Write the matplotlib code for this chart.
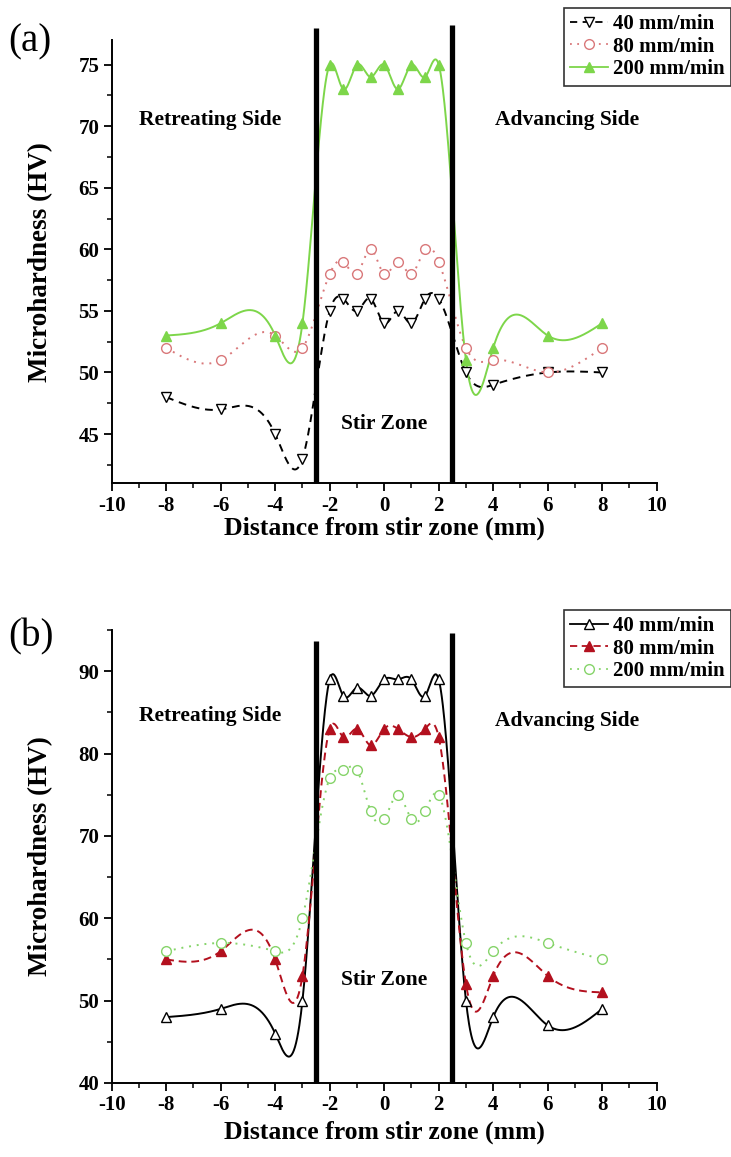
import numpy as np
import matplotlib
matplotlib.use('Agg')
import matplotlib.pyplot as plt
from matplotlib.ticker import MultipleLocator
from matplotlib.lines import Line2D

# ---------------- data ----------------
x = [-8, -6, -4, -3, -2, -1.5, -1, -0.5, 0, 0.5, 1, 1.5, 2, 3, 4, 6, 8]

a_40 = [48, 47, 45, 43, 55, 56, 55, 56, 54, 55, 54, 56, 56, 50, 49, 50, 50]
a_80 = [52, 51, 53, 52, 58, 59, 58, 60, 58, 59, 58, 60, 59, 52, 51, 50, 52]
a_200 = [53, 54, 53, 54, 75, 73, 75, 74, 75, 73, 75, 74, 75, 51, 52, 53, 54]

b_40 = [48, 49, 46, 50, 89, 87, 88, 87, 89, 89, 89, 87, 89, 50, 48, 47, 49]
b_80 = [55, 56, 55, 53, 83, 82, 83, 81, 83, 83, 82, 83, 82, 52, 53, 53, 51]
b_200 = [56, 57, 56, 60, 77, 78, 78, 73, 72, 75, 72, 73, 75, 57, 56, 57, 55]

labels = ['40 mm/min', '80 mm/min', '200 mm/min']
xticks = [-10, -8, -6, -4, -2, 0, 2, 4, 6, 8, 10]

SERIF = ['Liberation Serif', 'DejaVu Serif']
plt.rcParams['font.family'] = SERIF


def natural_spline(xs, ys, n=800):
    xs = np.asarray(xs, float)
    ys = np.asarray(ys, float)
    m = len(xs)
    h = np.diff(xs)
    A = np.zeros((m, m))
    r = np.zeros(m)
    A[0, 0] = 1
    A[-1, -1] = 1
    for i in range(1, m - 1):
        A[i, i - 1] = h[i - 1]
        A[i, i] = 2 * (h[i - 1] + h[i])
        A[i, i + 1] = h[i]
        r[i] = 6 * ((ys[i + 1] - ys[i]) / h[i] - (ys[i] - ys[i - 1]) / h[i - 1])
    M = np.linalg.solve(A, r)
    xx = np.linspace(xs[0], xs[-1], n)
    idx = np.clip(np.searchsorted(xs, xx) - 1, 0, m - 2)
    x0 = xs[idx]; x1 = xs[idx + 1]; hh = x1 - x0
    t0 = x1 - xx; t1 = xx - x0
    yy = (M[idx] * t0 ** 3 + M[idx + 1] * t1 ** 3) / (6 * hh) \
        + (ys[idx] / hh - M[idx] * hh / 6) * t0 \
        + (ys[idx + 1] / hh - M[idx + 1] * hh / 6) * t1
    return xx, yy


GREEN = '#7dd64a'
PINK = '#d9787a'
DARKRED = '#b3101e'
LGREEN = '#86d46a'

fig = plt.figure(figsize=(7.31, 11.57), dpi=100)
L, R = 111.7 / 731, 656.7 / 731
axA = fig.add_axes([L, 1 - 483.3 / 1157, R - L, (483.3 - 40) / 1157])
axB = fig.add_axes([L, 1 - 1083 / 1157, R - L, (1083 - 630) / 1157])

styleA = [
    dict(color='black', ls=(0, (4, 3)), marker='v', mfc='white', mec='black'),
    dict(color=PINK, ls=(0, (1, 3)), marker='o', mfc='white', mec=PINK),
    dict(color=GREEN, ls='-', marker='^', mfc=GREEN, mec=GREEN),
]
styleB = [
    dict(color='black', ls='-', marker='^', mfc='white', mec='black'),
    dict(color=DARKRED, ls=(0, (4, 2.5)), marker='^', mfc=DARKRED, mec=DARKRED),
    dict(color=LGREEN, ls=(0, (1, 3)), marker='o', mfc='white', mec=LGREEN),
]


def draw(ax, series, styles, ylim, ymaj, ymin_, vtops, texts, legtop,
         xlab_y):
    for ys, st in zip(series, styles):
        xx, yy = natural_spline(x, ys)
        ax.plot(xx, yy, color=st['color'], ls=st['ls'], lw=1.4, zorder=2)
        ax.plot(x, ys, ls='none', marker=st['marker'], ms=7, mfc=st['mfc'],
                mec=st['mec'], mew=1.0, zorder=3)
    for xv, top in zip([-2.5, 2.5], vtops):
        ax.plot([xv, xv], [ylim[0], top], color='black', lw=3.8, zorder=4,
                clip_on=False, solid_capstyle='butt')
    ax.set_xlim(-10, 10)
    ax.set_ylim(*ylim)
    ax.set_xticks(xticks)
    ax.set_xticklabels([str(t) for t in xticks])
    ax.xaxis.set_minor_locator(MultipleLocator(1))
    ax.yaxis.set_major_locator(MultipleLocator(ymaj))
    ax.yaxis.set_minor_locator(MultipleLocator(ymin_))
    for s in ['top', 'right']:
        ax.spines[s].set_visible(False)
    for s in ['left', 'bottom']:
        ax.spines[s].set_linewidth(1.4)
    ax.tick_params(which='major', direction='out', length=6, width=1.3,
                   labelsize=15, pad=3)
    ax.tick_params(which='minor', direction='out', length=3.5, width=1.1)
    for lab in ax.get_xticklabels() + ax.get_yticklabels():
        lab.set_fontweight('bold')
    ax.set_ylabel('Microhardness (HV)', fontsize=19.5, fontweight='bold')
    ax.yaxis.set_label_coords((53 - 111.7) / 545.0, 0.5)
    ax.set_xlabel('Distance from stir zone (mm)', fontsize=18.5,
                  fontweight='bold')
    ax.xaxis.set_label_coords(0.5, xlab_y)
    for (tx, ty, s) in texts:
        ax.text(tx, ty, s, ha='center', va='center', fontsize=15.5,
                fontweight='bold')
    handles = [Line2D([], [], color=st['color'], ls=st['ls'], lw=1.3,
                      marker=st['marker'], ms=7, mfc=st['mfc'],
                      mec=st['mec']) for st in styles]
    leg = fig.legend(handles, labels, loc='upper right',
                     bbox_to_anchor=(0.9995, legtop),
                     bbox_transform=fig.transFigure,
                     prop={'family': SERIF, 'weight': 'bold', 'size': 15},
                     frameon=True, fancybox=False, edgecolor='black',
                     handlelength=1.8, handletextpad=0.25, labelspacing=0.12,
                     borderpad=0.3, borderaxespad=0)
    leg.get_frame().set_linewidth(1.2)


draw(axA, [a_40, a_80, a_200], styleA, (41, 77), 5, 2.5, [78.0, 78.2],
     [(-6.4, 70.5, 'Retreating Side'), (6.7, 70.5, 'Advancing Side'),
      (0, 45.8, 'Stir Zone')], 1 - 8 / 1157, (483.3 - 517) / 443.3)
draw(axB, [b_40, b_80, b_200], styleB, (40, 95), 10, 5, [93.7, 94.6],
     [(-6.4, 84.5, 'Retreating Side'), (6.7, 84.0, 'Advancing Side'),
      (0, 52.5, 'Stir Zone')], 1 - 610 / 1157, (1083 - 1121) / 453.0)

fig.text(8 / 731, 1 - 42 / 1157, '(a)', fontsize=28, va='center', ha='left')
fig.text(8 / 731, 1 - 637 / 1157, '(b)', fontsize=28, va='center', ha='left')

fig.savefig('out.png', dpi=100)
